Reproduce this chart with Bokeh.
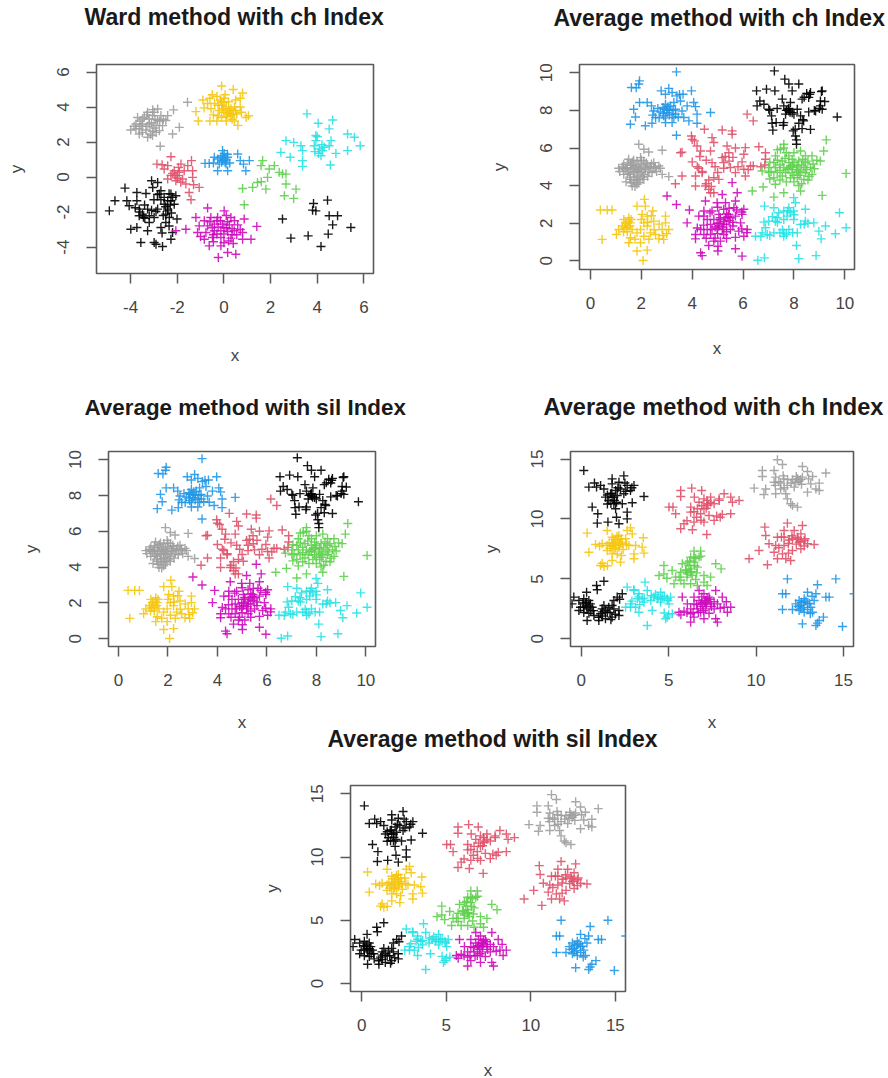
from bokeh.plotting import figure
from bokeh.layouts import row, column
from bokeh.models import Range1d, FixedTicker, Title
from bokeh.embed import file_html
from bokeh.resources import INLINE

BLACK, RED, GREEN, BLUE, CYAN, MAGENTA, GOLD, GRAY = ("#000000", "#DF536B", "#61D04F", "#2297E6",
                                                       "#28E2E5", "#CD0BBC", "#F5C710", "#9E9E9E")

# ---- Ward panel
a_black1 = [(-4.91,-1.93),(-4.67,-1.35),(-4.24,-0.63),(-4.16,-1.35),(-4.06,-1.64),(-3.73,-0.88),(-3.73,-1.35),(-3.34,-0.94),(-3.63,-1.83),(-3.63,-2.21),(-3.39,-2.35),(-3.2,-2.21),(-2.84,-1.83),(-2.99,-2.31),(-2.56,-1.55),(-2.41,-1.93),(-2.2,-1.16),(-2.56,-1.16),(-2.77,-0.97),(-3.1,-0.21),(-2.84,-0.31),(-2.7,-0.78),(-2.27,-0.97),(-2.06,-1.07),(-2.41,-1.35),(-2.13,-1.55),(-2.34,-2.31),(-2.01,-2.4),(-3.99,-2.98),(-3.73,-2.88),(-3.27,-3.07),(-3.56,-3.74),(-2.99,-3.74),(-2.63,-3.97),(-2.27,-3.55),(-2.2,-3.17),(-2.7,-2.88),(-2.49,-2.6),(-3.27,-1.83),(-3.49,-2.12),(-2.91,-1.97),(-2.41,-1.83),(-2.49,-2.12),(-2.27,-1.35),(-2.91,-3.84),(-2.35,-0.95),(-2.5,-1.7),(-3.45,-2.3),(-3.6,-2.0),(-3.4,-1.6),(-3.1,-1.9),(-3.0,-1.3),(-2.7,-1.3),(-2.3,-1.6),(-2.25,-2.05),(-2.6,-2.2),(-3.05,-0.6),(-2.85,-1.0),(-3.8,-1.75),(-3.2,-2.6),(-2.35,-2.8),(-2.65,-3.2)]
a_black2 = [(3.84,-1.51),(3.8,-1.89),(3.94,-1.93),(4.44,-1.32),(4.51,-2.21),(4.87,-2.21),(4.66,-2.73),(5.44,-2.88),(2.51,-2.4),(2.87,-3.49),(3.61,-3.36),(4.47,-3.26),(4.16,-3.97)]
a_gray = [(-2.16,3.84),(-1.56,4.27),(-1.91,2.84),(-2.2,2.46),(-2.73,1.76),(-2.84,3.89),(-3.27,3.7),(-3.06,3.51),(-2.7,3.51),(-3.49,3.32),(-3.2,3.32),(-2.84,3.23),(-2.49,3.23),(-3.77,3.03),(-3.49,3.03),(-3.2,3.03),(-2.91,2.94),(-2.63,2.94),(-3.99,2.69),(-3.63,2.75),(-3.34,2.69),(-3.06,2.61),(-2.77,2.65),(-3.63,2.46),(-3.27,2.27),(-3.06,2.37),(-3.41,3.42),(-2.99,3.7),(-3.77,2.75),(-2.41,3.51),(-3.1,3.1),(-3.3,2.9),(-2.95,3.3),(-3.55,2.9),(-3.6,3.2),(-3.3,3.55),(-3.0,2.8),(-2.75,3.2),(-3.5,2.55),(-3.15,2.45),(-2.6,3.3),(-3.85,2.9),(-3.05,3.85),(-2.9,2.55),(-3.7,3.4)]
a_red = [(-2.27,1.16),(-2.87,0.74),(-2.41,0.65),(-1.84,0.74),(-1.39,0.94),(-2.56,0.46),(-2.13,0.36),(-1.7,0.36),(-1.34,0.36),(-2.27,0.08),(-1.99,0.08),(-2.41,-0.11),(-2.06,-0.21),(-1.77,-0.11),(-1.34,-0.02),(-1.63,-0.4),(-1.3,-0.44),(-1.06,-0.59),(-1.49,-0.88),(-1.41,-1.3),(-1.91,0.27),(-2.1,0.1),(-2.0,-0.05),(-2.2,0.2),(-2.65,0.7),(-1.95,0.55),(-1.55,0.65),(-1.85,-0.3)]
a_blue = [(-0.06,1.51),(-0.06,1.22),(-0.41,1.13),(-0.81,0.78),(-0.63,0.78),(-0.27,1.03),(-0.06,0.94),(0.16,1.13),(-0.2,0.74),(0.09,0.74),(0.59,1.32),(0.7,0.94),(1.09,0.94),(0.84,0.74),(0.94,0.36),(-0.27,0.36),(0.16,0.36),(-0.13,1.13),(0.01,1.35),(0.09,0.97),(0.0,1.05),(-0.1,0.85),(0.05,0.85),(-0.45,0.8),(0.25,0.8),(0.15,1.3)]
a_green = [(1.66,0.94),(1.59,0.65),(1.94,0.46),(2.16,0.65),(2.51,0.17),(2.66,0.17),(2.37,0.27),(1.87,-0.02),(1.44,-0.31),(1.23,-0.59),(0.8,-0.65),(1.8,-0.69),(2.66,-0.4),(2.59,-1.07),(3.09,-0.69),(2.99,-1.22),(0.87,-1.58),(1.6,-0.27)]
a_cyan = [(3.56,3.61),(4.04,3.07),(4.66,3.26),(4.51,2.75),(5.3,2.46),(5.59,2.27),(5.84,1.79),(5.3,1.51),(3.94,2.37),(3.94,2.08),(4.59,2.08),(2.66,2.08),(2.99,1.98),(3.3,1.79),(2.44,1.41),(2.84,1.13),(3.37,1.51),(3.37,0.94),(3.37,0.61),(3.87,1.79),(4.09,1.6),(4.3,1.7),(4.51,1.79),(4.8,1.35),(4.16,1.22),(4.56,0.69),(3.9,1.45),(4.23,1.51),(4.0,2.3),(4.2,1.85),(4.05,1.35)]
a_magenta = [(-0.7,-1.77),(0.01,-1.93),(-1.2,-2.31),(-0.84,-2.5),(-0.56,-2.31),(-0.27,-2.31),(0.3,-2.31),(0.87,-2.4),(-1.06,-2.79),(-0.7,-2.79),(-0.41,-2.69),(-0.06,-2.69),(0.23,-2.73),(0.59,-2.73),(1.41,-2.82),(-2.06,-3.07),(-1.63,-2.98),(-1.13,-3.17),(-0.77,-3.17),(-0.41,-3.07),(-0.13,-3.07),(0.16,-3.11),(0.44,-3.07),(0.8,-3.17),(-0.84,-3.55),(-0.49,-3.45),(-0.13,-3.45),(0.3,-3.49),(0.8,-3.55),(1.16,-3.55),(-0.63,-3.93),(-0.13,-3.93),(0.16,-4.31),(0.51,-4.41),(-0.24,-4.6),(0.1,-2.2),(0.1,-2.9),(-0.25,-2.85),(0.35,-2.95),(0.0,-3.25),(-0.3,-3.25),(0.2,-3.65),(-0.5,-2.9),(-0.15,-2.5),(0.45,-2.5),(0.15,-2.55),(-0.45,-3.3),(0.55,-3.3),(0.35,-3.3),(-0.6,-2.55),(0.7,-3.0),(-0.3,-2.5),(0.0,-2.9),(-1.0,-3.4),(0.0,-3.75),(0.4,-3.8),(-0.45,-3.7)]
a_gold = [(-0.1,5.2),(0.4,5.0),(0.8,4.8),(-0.5,4.7),(-0.9,4.4),(-0.6,4.5),(-0.3,4.6),(0.0,4.5),(0.2,4.3),(0.5,4.4),(0.7,4.5),(-0.7,4.2),(-0.4,4.2),(-0.1,4.1),(0.1,4.0),(0.3,3.9),(0.5,3.8),(0.7,4.0),(1.05,3.5),(-1.1,3.2),(-0.6,3.2),(-0.3,3.2),(-0.1,3.4),(0.1,3.2),(0.3,3.5),(0.6,2.95),(0.95,3.4),(-0.2,3.8),(0.0,3.7),(0.15,3.6),(0.35,3.3),(-0.15,4.4),(0.05,4.7),(0.25,3.7),(0.45,3.2),(-0.05,3.9),(-0.25,3.5),(0.55,3.6),(-1.2,3.74),(-0.25,4.1),(0.0,4.25),(-0.1,4.3),(0.2,3.8),(0.4,3.6),(0.45,4.0),(-0.55,3.9),(-0.85,3.95),(0.75,3.7),(0.1,3.45),(-0.45,3.55)]

# ---- Average method, 0-10 panels
b_blue = [(3.38,10.05),(1.93,9.57),(1.61,9.22),(1.8,9.2),(1.9,9.4),(2.78,9.04),(3.08,9.17),(3.4,8.77),(3.64,8.86),(3.97,9.04),(2.95,8.86),(3.21,8.95),(1.93,8.42),(2.23,8.42),(2.4,8.24),(1.7,8.06),(4.06,8.42),(4.13,8.2),(3.8,8.24),(3.54,8.5),(3.28,8.42),(2.95,8.33),(3.15,8.24),(3.34,8.06),(3.01,8.06),(2.75,7.92),(2.49,7.97),(3.21,7.8),(2.88,7.71),(2.56,7.62),(1.77,7.65),(1.57,7.26),(2.16,7.18),(2.42,7.32),(2.95,7.35),(3.21,7.35),(3.6,7.97),(3.67,7.62),(4.19,7.8),(4.19,7.32),(4.72,7.89),(3.38,6.68),(3.01,7.89),(3.28,7.62),(3.87,7.44),(3.1,8.0),(2.9,8.05),(2.85,7.85),(3.1,7.75),(3.05,8.2),(2.85,8.15),(3.25,8.0),(3.35,7.8),(2.7,7.6),(2.95,7.6),(3.45,7.65),(2.45,7.75),(2.65,8.1),(3.5,8.85)]
b_black = [(7.23,10.1),(7.64,9.66),(7.8,9.4),(8.19,9.4),(7.93,9.04),(6.53,9.04),(6.92,9.13),(7.25,9.04),(9.11,9.04),(8.65,8.95),(8.58,8.69),(8.32,8.6),(7.54,8.6),(6.66,8.5),(7.86,8.42),(9.04,8.5),(9.21,8.47),(6.55,8.24),(6.82,8.33),(7.6,8.24),(7.34,8.1),(7.01,8.06),(7.77,8.06),(8.13,8.06),(8.58,7.92),(8.85,7.97),(9.11,8.06),(9.04,8.24),(7.12,7.71),(7.67,7.8),(8.26,7.71),(9.7,7.65),(7.14,7.32),(7.6,7.35),(7.58,7.21),(8.19,7.32),(8.38,7.44),(7.17,6.95),(7.97,6.91),(8.32,7.03),(8.65,6.99),(8.06,6.64),(8.1,6.43),(8.1,6.2),(7.8,7.97),(7.93,7.88),(8.62,8.85),(9.08,9.0),(7.8,8.1),(7.85,7.9),(7.7,8.0),(8.0,7.8),(8.4,8.7),(8.5,8.9),(9.0,8.1),(8.8,8.0),(7.05,8.0),(7.3,7.35),(8.05,7.0),(8.35,7.5)]
b_cyan = [(6.58,0.03),(6.84,0.16),(8.19,0.12),(8.87,0.28),(8.1,0.82),(9.07,1.17),(9.63,1.44),(10.05,1.76),(9.79,2.56),(9.24,1.85),(8.98,1.58),(8.78,2.02),(8.45,2.74),(8.26,1.94),(8.45,2.11),(7.99,3.36),(6.84,2.91),(7.21,2.82),(7.4,2.56),(7.6,2.65),(7.86,2.56),(7.99,2.65),(7.8,2.82),(8.06,3.09),(7.34,2.29),(7.01,2.11),(6.82,2.06),(7.27,2.11),(7.6,2.2),(6.88,1.76),(6.75,1.49),(6.49,1.31),(6.95,1.4),(7.21,1.49),(7.6,1.49),(7.6,1.31),(7.8,1.67),(8.13,1.49),(7.45,1.49),(7.73,2.38),(7.99,2.2),(7.55,1.65),(7.7,1.4),(7.35,2.05),(7.15,2.35),(7.75,2.65),(8.0,2.45),(8.4,1.95),(8.55,2.0),(7.95,1.5),(6.7,1.3),(7.05,1.35)]
b_magenta = [(3.01,3.45),(3.38,3.0),(3.89,2.7),(3.8,2.02),(5.57,4.16),(5.77,3.62),(5.18,3.53),(4.52,3.18),(5.7,3.18),(4.98,3.09),(5.31,3.09),(4.46,2.65),(4.78,2.65),(5.24,2.74),(5.64,2.82),(6.03,2.74),(5.96,2.47),(4.26,2.38),(4.46,2.38),(5.05,2.47),(5.44,2.47),(5.7,2.38),(4.59,2.2),(4.85,2.2),(5.11,2.2),(5.31,2.29),(5.5,2.29),(4.72,1.94),(4.98,1.99),(5.24,1.94),(5.9,2.02),(4.33,1.67),(4.59,1.67),(4.78,1.67),(4.98,1.71),(5.18,1.67),(5.5,1.67),(5.83,1.58),(6.16,1.67),(4.13,1.4),(4.46,1.4),(4.72,1.4),(5.24,1.4),(6.03,1.31),(4.13,1.17),(5.11,1.05),(4.65,0.82),(5.01,0.78),(5.01,0.52),(5.7,0.64),(5.96,0.25),(4.33,0.43),(4.39,0.28),(5.4,2.35),(5.25,2.1),(5.05,1.85),(4.9,1.8),(5.35,2.5),(4.2,1.75),(4.45,1.9),(4.7,2.55),(5.0,2.85),(5.45,2.8),(5.75,2.7),(5.95,2.6),(5.6,2.05),(5.6,1.85),(5.35,1.55),(5.0,1.45),(4.55,1.2),(4.9,1.2),(5.35,1.2),(5.7,1.25),(5.05,2.0),(5.2,1.8),(5.1,2.3),(5.45,2.15),(6.15,1.5),(5.95,1.7),(4.85,1.05),(5.35,1.95)]
b_gold = [(0.39,2.7),(0.66,2.7),(0.85,2.7),(0.46,1.14),(1.02,1.4),(1.11,1.67),(1.25,1.85),(1.38,2.02),(1.31,2.2),(1.51,2.29),(1.57,2.02),(1.44,1.76),(1.64,1.67),(1.83,1.49),(1.57,1.23),(1.51,0.96),(1.97,0.96),(1.83,0.52),(2.23,0.57),(2.07,0.02),(2.12,3.27),(1.83,2.91),(2.16,2.91),(2.45,2.65),(2.03,2.47),(2.23,2.38),(2.95,2.38),(2.49,2.11),(2.1,2.02),(3.08,1.67),(2.82,1.67),(2.36,1.49),(2.56,1.4),(2.1,1.31),(2.69,1.17),(2.88,1.14),(2.95,2.02),(1.97,1.67),(2.23,1.85),(1.4,1.9),(1.5,2.1),(1.35,1.75),(1.3,1.55),(1.55,1.85),(1.6,2.2),(1.45,1.55),(2.0,2.2),(2.25,2.05),(2.5,1.65),(2.7,1.95),(3.0,1.45),(2.3,1.15),(1.75,1.15),(2.4,2.4),(2.85,1.35)]
b_red = [(6.16,7.8),(6.4,7.44),(4.48,7.0),(5.18,6.96),(5.57,6.91),(5.57,6.73),(3.97,6.64),(4.09,6.38),(4.78,6.55),(4.85,6.29),(4.19,6.11),(5.37,6.11),(6.09,6.02),(6.62,6.07),(3.54,5.75),(4.33,5.84),(4.72,5.84),(5.44,5.75),(6.03,5.67),(6.88,5.75),(5.18,5.49),(6.88,5.4),(4.0,5.26),(4.78,5.22),(5.24,5.22),(5.96,5.26),(6.29,5.04),(4.26,4.92),(4.39,4.69),(5.24,4.92),(5.5,4.96),(6.03,4.87),(4.13,4.51),(3.6,4.51),(4.85,4.42),(5.05,4.33),(6.09,4.51),(3.34,4.1),(4.13,3.98),(4.52,3.98),(4.65,3.8),(4.85,3.62),(4.72,3.62),(5.7,4.69),(3.6,5.78),(4.4,4.75),(4.0,6.45),(4.3,5.55),(4.55,5.35),(4.9,5.0),(5.0,4.7),(4.65,4.3),(5.6,5.5),(5.8,5.0),(6.2,4.85),(6.4,5.05),(6.7,5.0),(5.45,5.3),(4.55,4.1),(4.75,3.95),(4.2,5.0),(5.3,5.55),(5.7,6.0),(6.85,5.1)]
b_green = [(9.27,6.43),(9.17,5.84),(9.04,5.31),(10.05,4.65),(9.11,3.48),(7.6,6.2),(7.47,5.93),(8.26,5.84),(7.27,5.58),(7.8,5.58),(8.45,5.58),(8.71,5.58),(7.21,5.22),(7.54,5.31),(7.93,5.4),(8.19,5.31),(8.45,5.22),(7.01,4.96),(7.27,4.96),(7.6,4.96),(7.86,5.04),(8.13,5.04),(8.39,4.96),(8.65,4.96),(6.75,4.78),(7.01,4.69),(7.34,4.69),(7.67,4.69),(7.93,4.69),(8.19,4.78),(8.45,4.69),(8.71,4.6),(7.21,4.42),(7.54,4.51),(7.86,4.42),(8.13,4.42),(8.39,4.33),(7.27,4.07),(6.79,3.93),(6.36,3.71),(8.26,3.71),(7.6,3.62),(7.21,3.39),(8.19,4.01),(7.8,4.87),(7.93,4.96),(7.8,5.22),(8.26,4.69),(8.0,5.22),(7.73,4.87),(8.3,5.1),(8.1,4.85),(7.45,5.1),(7.65,5.45),(7.05,5.25),(7.35,5.35),(7.1,4.75),(7.45,4.3),(7.7,4.2),(8.0,4.2),(8.3,4.1),(8.55,4.3),(8.8,4.9),(8.9,5.35),(8.55,5.3),(8.75,5.15),(8.0,5.75),(7.7,5.75),(7.35,5.9),(7.45,4.8),(8.0,4.55),(8.5,4.85),(8.2,4.55),(7.95,5.1),(8.35,5.4),(8.6,4.5),(7.05,4.35),(7.6,6.0)]
b_gray = [(1.9,6.2),(2.1,5.93),(2.29,5.79),(2.82,5.88),(1.97,5.49),(1.5,5.4),(1.83,5.31),(2.1,5.31),(2.49,5.22),(1.31,5.13),(1.57,5.08),(1.9,5.04),(2.23,5.04),(2.69,5.04),(1.11,4.92),(1.38,4.87),(1.64,4.87),(1.9,4.78),(2.16,4.87),(2.49,4.92),(2.75,4.92),(1.31,4.6),(1.57,4.6),(1.83,4.51),(2.1,4.6),(2.42,4.69),(2.82,4.6),(3.08,4.48),(1.57,4.33),(1.83,4.25),(2.1,4.33),(1.64,3.98),(1.83,4.07),(1.6,5.1),(1.75,5.0),(2.0,5.15),(1.45,4.95),(1.7,4.7),(2.0,4.7),(1.95,4.9),(1.5,4.75),(1.8,4.95),(2.3,4.75),(1.65,5.25),(2.05,4.45),(1.75,4.45),(2.55,5.0),(1.25,5.0),(1.55,4.45),(1.9,4.15),(1.3,4.9),(1.45,5.2),(1.7,5.35),(2.2,5.2),(2.35,5.0),(2.6,4.75),(1.15,4.75),(1.45,4.6),(1.7,4.3),(2.25,4.5),(1.95,4.35),(1.6,4.15),(2.0,5.35),(1.85,4.75),(2.15,4.95),(2.4,5.15),(1.75,3.95),(1.4,4.2)]

# ---- Average method, 0-15 panels
c_black1 = [(0.15,14.05),(0.76,13.0),(0.44,12.66),(0.88,12.66),(1.3,12.5),(2.44,13.6),(1.77,13.35),(1.77,12.93),(2.16,13.07),(2.63,12.8),(3.02,12.8),(2.25,12.5),(2.82,12.38),(3.59,11.88),(1.39,11.82),(1.77,11.82),(2.06,11.96),(2.44,12.1),(1.58,11.54),(2.02,11.4),(2.35,11.27),(2.92,11.35),(0.63,10.99),(1.97,10.85),(2.63,10.57),(0.95,10.43),(2.02,10.15),(0.92,9.65),(1.53,9.74),(2.16,9.6),(2.63,10.01),(1.87,11.82),(1.68,12.1),(1.87,11.27),(1.97,12.38),(1.11,12.8),(1.75,12.15),(1.5,12.0),(1.9,11.55),(2.1,12.6),(1.7,11.3),(2.5,13.0),(2.55,12.3),(2.9,12.6),(1.5,11.25)]
c_black2 = [(1.3,4.81),(0.88,4.45),(0.92,4.09),(0.31,3.89),(-0.42,3.48),(-0.52,2.92),(-0.13,3.2),(0.15,3.34),(0.44,3.2),(0.25,2.92),(0.53,2.92),(-0.04,2.64),(0.34,2.5),(-0.13,2.36),(0.44,2.14),(0.34,1.53),(0.73,1.95),(1.11,2.09),(1.39,2.36),(1.2,2.5),(1.58,2.64),(1.87,2.5),(2.16,2.36),(2.35,3.76),(2.06,3.48),(1.87,3.2),(1.77,2.78),(1.01,1.53),(1.39,1.67),(1.77,1.81),(2.16,1.95),(1.3,2.78),(0.15,2.64),(0.63,2.64),(0.3,3.05),(0.1,3.0),(0.3,2.75),(0.45,2.75),(0.15,2.2),(0.7,2.35),(1.0,1.8),(1.2,1.9),(1.5,2.2),(1.2,2.25),(1.65,2.2),(1.95,2.05),(2.2,3.3),(0.55,2.35),(1.7,1.6)]
c_gold = [(0.34,8.82),(0.44,7.23),(1.11,6.12),(1.3,6.04),(1.49,9.04),(2.82,9.26),(2.92,8.76),(3.55,8.43),(0.82,7.87),(1.2,7.93),(1.49,7.79),(1.77,8.48),(2.16,8.62),(2.54,8.35),(1.97,8.21),(2.25,8.07),(1.77,7.93),(1.49,7.37),(1.87,7.51),(2.16,7.65),(2.73,7.79),(3.11,7.79),(3.49,7.65),(3.02,7.09),(3.59,7.15),(1.77,7.09),(2.06,7.09),(2.25,6.4),(1.77,6.54),(3.02,6.68),(2.35,7.93),(1.97,7.79),(2.63,9.04),(2.1,8.3),(1.9,8.0),(1.6,8.0),(1.75,7.75),(1.95,7.55),(2.05,8.55),(2.3,8.35),(2.2,7.85),(1.85,8.3),(1.65,7.55),(2.4,7.45),(1.5,6.1),(1.2,6.3),(2.6,7.9),(1.05,7.75),(2.3,6.95)]
c_cyan = [(3.78,1.11),(3.65,4.73),(2.63,4.31),(3.02,4.03),(3.3,3.76),(3.78,4.03),(4.54,3.89),(4.16,3.48),(4.64,3.48),(5.11,3.48),(2.82,2.92),(3.21,3.34),(3.49,3.34),(4.92,3.34),(4.35,3.34),(3.59,3.06),(2.54,2.64),(2.82,2.64),(3.11,2.64),(4.06,2.36),(3.3,2.22),(4.92,1.81),(4.83,1.67),(5.21,2.09),(3.98,3.2),(4.54,3.06),(5.02,2.92),(3.3,3.5),(3.6,3.4),(4.0,3.6),(4.25,3.7),(4.75,3.55),(4.95,3.2),(2.9,3.15),(3.35,2.85),(4.4,3.5),(4.55,3.3),(3.0,4.1),(4.75,2.15),(5.0,2.0)]
c_magenta = [(6.74,4.03),(7.69,4.03),(5.78,3.48),(6.45,3.48),(7.02,3.76),(7.31,3.48),(8.07,3.48),(6.74,3.2),(7.12,3.2),(6.07,2.92),(6.45,2.92),(6.83,2.92),(7.4,2.92),(7.79,2.92),(8.17,2.64),(8.55,2.64),(6.26,2.5),(6.64,2.5),(7.12,2.5),(7.6,2.5),(8.36,2.22),(5.59,2.22),(5.88,2.31),(6.26,2.09),(6.83,2.22),(7.31,2.14),(6.26,1.39),(7.02,1.67),(7.69,1.67),(7.79,1.39),(6.45,1.81),(7.2,3.4),(7.05,3.05),(6.95,2.7),(6.9,3.5),(7.2,3.15),(7.35,3.3),(7.45,2.7),(7.0,2.35),(6.7,2.2),(6.4,2.2),(6.05,2.2),(7.6,3.1),(7.95,2.55),(8.3,3.1),(5.7,2.0),(6.9,3.0),(7.15,2.9),(6.6,2.85)]
c_green = [(6.45,7.32),(6.83,7.32),(6.26,6.82),(6.74,6.82),(7.69,6.26),(8.0,5.84),(4.73,6.12),(5.2,5.7),(4.45,5.29),(4.73,5.42),(5.78,6.26),(6.07,6.4),(6.45,6.4),(5.97,5.7),(6.26,5.56),(6.64,5.98),(5.69,5.56),(5.4,5.15),(7.4,5.15),(7.02,5.29),(5.31,4.59),(5.88,4.59),(6.26,4.59),(6.64,4.45),(7.02,4.73),(7.2,4.45),(6.45,6.82),(6.07,5.42),(6.26,5.84),(6.16,6.12),(6.2,6.5),(6.5,6.1),(6.3,5.6),(6.0,5.75),(6.35,5.3),(6.6,5.5),(6.05,5.15),(5.7,4.9),(6.55,4.95),(6.85,6.9),(6.55,6.7),(5.6,5.15),(4.9,5.05)]
c_blue = [(11.79,5.0),(14.56,5.0),(13.51,4.51),(11.7,3.76),(11.51,3.76),(12.94,3.89),(13.42,3.76),(13.99,3.48),(14.18,3.48),(15.61,3.76),(12.46,3.2),(12.75,3.34),(13.32,3.2),(12.27,2.92),(12.94,2.92),(12.56,2.78),(11.51,2.45),(12.08,2.45),(12.46,2.36),(13.13,2.64),(12.75,2.22),(13.23,2.22),(14.94,1.03),(12.65,1.25),(13.42,1.11),(13.51,1.31),(13.85,1.81),(13.61,1.53),(12.75,3.06),(12.56,2.5),(12.7,2.6),(12.85,3.15),(13.05,2.95),(12.4,2.7),(12.6,3.05),(12.95,2.45),(13.1,2.1),(13.2,3.55)]
c_gray = [(11.22,14.94),(11.51,14.55),(10.36,14.05),(11.03,14.05),(12.65,14.38),(12.94,13.96),(13.99,13.83),(10.36,13.55),(11.12,13.49),(11.59,13.35),(12.08,13.27),(12.37,13.35),(12.65,13.49),(13.23,13.55),(11.03,13.07),(11.41,12.99),(11.79,12.8),(12.27,13.07),(13.13,12.93),(13.61,12.99),(9.89,12.57),(10.55,12.5),(11.41,12.5),(12.18,12.66),(13.42,12.5),(13.61,12.38),(10.45,12.04),(11.12,12.1),(11.7,12.1),(12.94,12.24),(11.79,11.68),(11.98,11.27),(12.37,10.99),(12.08,11.13),(11.55,13.6),(11.3,13.1),(12.0,13.0),(12.3,13.55),(12.55,13.3),(11.8,13.3),(11.1,12.8),(12.6,12.9),(13.0,13.35),(11.6,12.6),(12.45,13.15)]
c_red1 = [(5.69,12.38),(6.32,12.57),(6.89,12.38),(5.69,11.88),(6.47,11.82),(8.17,12.1),(8.55,11.82),(9.03,11.54),(8.65,11.4),(7.02,11.68),(7.4,11.82),(7.88,11.68),(7.21,11.27),(7.6,11.27),(6.74,11.4),(5.02,10.99),(5.25,10.99),(6.26,10.99),(6.64,10.85),(7.02,10.85),(5.4,10.43),(6.26,10.57),(6.83,10.43),(7.31,10.29),(8.07,10.38),(8.55,10.43),(5.88,9.6),(6.45,9.74),(7.02,9.74),(7.6,9.88),(5.69,9.18),(6.36,9.1),(7.18,8.71),(7.2,11.55),(7.4,11.4),(6.9,11.1),(7.15,10.9),(6.45,10.6),(6.6,10.15),(7.75,10.25),(7.95,10.15),(7.9,11.55),(7.25,11.15),(6.05,9.85),(6.85,9.9)]
c_red2 = [(10.5,9.32),(11.79,9.65),(12.65,9.46),(10.55,8.62),(11.6,9.04),(12.18,9.04),(12.56,8.76),(11.22,8.48),(11.6,8.48),(12.08,8.35),(12.75,8.21),(10.74,7.93),(11.12,7.79),(11.6,7.79),(12.46,8.07),(12.94,7.93),(13.32,7.87),(10.17,7.37),(11.03,7.23),(11.51,7.09),(12.08,7.37),(12.56,7.51),(9.6,6.68),(11.22,6.68),(11.98,6.54),(10.65,6.18),(11.7,6.68),(11.85,7.95),(12.37,8.48),(12.4,8.3),(12.55,8.1),(12.05,8.6),(11.9,8.25),(12.75,7.75),(11.3,7.6),(11.85,7.15),(11.45,8.5),(12.3,7.9),(12.8,8.35)]

ward_groups = [(a_black1,BLACK),(a_black2,BLACK),(a_gray,GRAY),(a_red,RED),(a_blue,BLUE),(a_green,GREEN),(a_cyan,CYAN),(a_magenta,MAGENTA),(a_gold,GOLD)]
avg10_groups = [(b_blue,BLUE),(b_black,BLACK),(b_cyan,CYAN),(b_magenta,MAGENTA),(b_gold,GOLD),(b_red,RED),(b_green,GREEN),(b_gray,GRAY)]
avg15_groups = [(c_black1,BLACK),(c_black2,BLACK),(c_gold,GOLD),(c_cyan,CYAN),(c_magenta,MAGENTA),(c_green,GREEN),(c_blue,BLUE),(c_gray,GRAY),(c_red1,RED),(c_red2,RED)]

ticks_ward_x = [-4,-2,0,2,4,6]
ticks_ward_y = [-4,-2,0,2,4,6]
ticks_10 = [0,2,4,6,8,10]
ticks_15 = [0,5,10,15]

FONT = "Liberation Sans"


def panel(title, title_left, title_gap, title_size, groups, xr, yr, xt, yt, canvas, frame, margin,
          xlab_standoff, ylab_standoff, styles=None):
    cx0, cy0, cx1, cy1 = canvas
    fx0, fy0, fx1, fy1 = frame
    p = figure(width=cx1-cx0, height=cy1-cy0, frame_width=fx1-fx0, frame_height=fy1-fy0,
               output_backend="svg", toolbar_location=None,
               x_range=Range1d(*xr), y_range=Range1d(*yr), margin=margin,
               min_border_left=fx0-cx0, min_border_right=cx1-fx1,
               min_border_top=fy0-cy0, min_border_bottom=cy1-fy1,
               x_axis_label="x", y_axis_label="y", styles=styles or {})
    bottom_axis, left_axis = p.below[0], p.left[0]
    # a blank title next to the frame only reserves the gap below the real title
    p.add_layout(Title(text=" ", text_font_size="1px", standoff=title_gap-1, text_color="#ffffff"), "above")
    p.title = Title(text=title, align="left", offset=title_left-fx0, standoff=0,
                    text_font=FONT, text_font_size=title_size, text_font_style="bold",
                    text_color="#1a1a1a")
    p.grid.visible = False
    p.outline_line_color = "#5a5a5a"
    p.outline_line_width = 1.6
    for ax, tk, st, ls in ((bottom_axis, xt, xlab_standoff, 17), (left_axis, yt, ylab_standoff, 17)):
        ax.ticker = FixedTicker(ticks=tk)
        ax.axis_line_color = None
        ax.major_tick_line_color = "#5a5a5a"
        ax.major_tick_line_width = 1.5
        ax.major_tick_out = 10
        ax.major_tick_in = 0
        ax.minor_tick_line_color = None
        ax.major_label_text_font = FONT
        ax.major_label_text_font_size = "17px"
        ax.major_label_text_color = "#444444"
        ax.major_label_standoff = ls
        ax.major_label_overrides = {t: str(t) for t in tk}
        ax.axis_label_text_font = FONT
        ax.axis_label_text_font_size = "17px"
        ax.axis_label_text_font_style = "normal"
        ax.axis_label_text_color = "#444444"
        ax.axis_label_standoff = st
    left_axis.major_label_orientation = "vertical"
    for pts, col in groups:
        p.scatter([q[0] for q in pts], [q[1] for q in pts], marker="cross", size=9,
                  line_color=col, line_width=1.4, line_alpha=0.9, fill_color=None)
    return p


f1 = panel("Ward method with ch Index", 84, 33, "23.1px", ward_groups, (-5.46,6.41), (-5.51,6.43), ticks_ward_x, ticks_ward_y,
           (0,0,440,385), (96,64,373,273), (0,0,0,0), 30, 29)
f2 = panel("Average method with ch Index", 553, 32, "23px", avg10_groups, (-0.43,10.38), (-0.46,10.44), ticks_10, ticks_10,
           (440,0,888,385), (579,62,854,267), (0,0,0,0), 27, 29)
f3 = panel("Average method with sil Index", 84, 30, "22.4px", avg10_groups, (-0.40,10.39), (-0.43,10.45), ticks_10, ticks_10,
           (0,385,440,731), (108,451,375,646), (0,0,0,0), 24, 26)
f4 = panel("Average method with ch Index", 543, 30, "23.6px", avg15_groups, (-0.61,15.57), (-0.64,15.63), ticks_15, ticks_15,
           (440,385,888,731), (570,451,853,646), (0,0,0,0), 24, 28)
f5 = panel("Average method with sil Index", 326, 32, "23px", avg15_groups, (-0.67,15.6), (-0.63,15.66), ticks_15, ticks_15,
           (260,722,660,1078), (349,783,624,989), (0,0,0,259), 27, 27,
           styles={"transform": "translateY(-11px)"})

layout = column(row(f1, f2, spacing=0), row(f3, f4, spacing=0), f5, spacing=0)
open("out.html", "w").write(file_html(layout, INLINE))
